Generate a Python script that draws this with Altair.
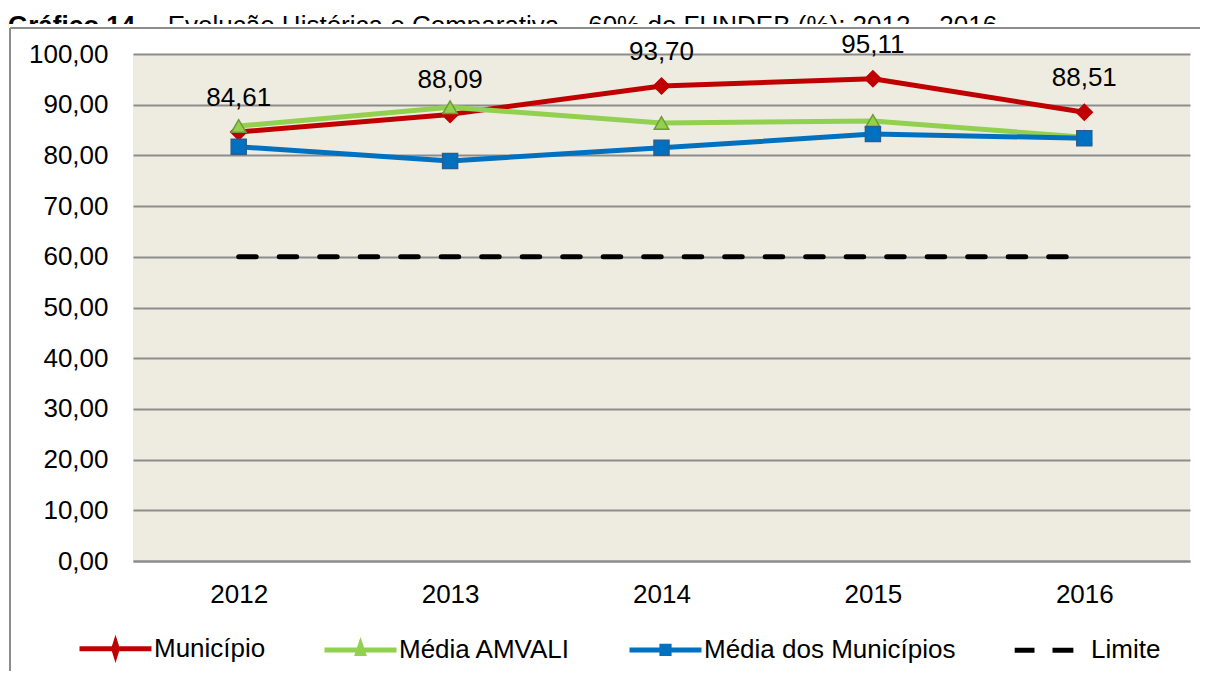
import altair as alt
import pandas as pd

# ---------------- data ----------------
years = ["2012", "2013", "2014", "2015", "2016"]
municipio = [84.61, 88.09, 93.70, 95.11, 88.51]
media_amvali = [85.8, 89.5, 86.4, 86.8, 83.6]
media_municipios = [81.7, 78.9, 81.5, 84.2, 83.4]
limite = [60, 60, 60, 60, 60]
y_ticks = [0, 10, 20, 30, 40, 50, 60, 70, 80, 90, 100]
series_names = ["Município", "Média AMVALI", "Média dos Municípios", "Limite"]
title_bold = "Gráfico 14"
title_rest = "– Evolução Histórica e Comparativa – 60% do FUNDEB (%): 2012 – 2016"

series_values = [municipio, media_amvali, media_municipios, limite]
rows = []
for name, vals in zip(series_names, series_values):
    for yr, v in zip(years, vals):
        rows.append({"serie": name, "ano": yr, "valor": v})
df = pd.DataFrame(rows)

# ---------------- style ----------------
W, H = 1057, 507
FONT = "Liberation Sans"
GRID = "#8C8C8C"
colors = ["#C00000", "#92D050", "#0070C0", "#000000"]
marker_shape = ["diamond", "triangle-up", "square"]
marker_size = [256, 210, 225]
marker_stroke = ["#C00000", "#6F9A37", "#2C5D8F"]

legend_paths = [
    "M-1,0H1M0,-0.16L0.05,0L0,0.16L-0.05,0Z",
    "M-1,0H1M0,-0.14L0.08,0.1L-0.08,0.1Z",
    "M-1,0H1M-0.1,-0.1H0.1V0.1H-0.1Z",
    "M-1.05,0H-0.5M0.0,0H0.58",
]

x_enc = alt.X(
    "ano:O",
    scale=alt.Scale(type="point", padding=0.5, domain=years),
    axis=alt.Axis(title=None, labelAngle=0, ticks=False, domain=True,
                  domainColor=GRID, domainWidth=2, grid=False,
                  labelPadding=20, labelFontSize=26, labelFont=FONT,
                  labelColor="#000000"),
)
y_enc = alt.Y(
    "valor:Q",
    scale=alt.Scale(domain=[0, 100], nice=False, zero=True),
    axis=alt.Axis(title=None, values=y_ticks, ticks=False, domain=False,
                  grid=True, gridColor=GRID, gridWidth=2,
                  labelPadding=25, labelFontSize=26, labelFont=FONT,
                  labelColor="#000000",
                  labelExpr="replace(format(datum.value, '.2f'), '.', ',')"),
)

one_row = alt.InlineData(values=[{"k": 1}])

# title pieces (partially hidden by the chart frame, as in the reference)
t1 = alt.Chart(one_row).mark_text(
    align="left", baseline="alphabetic", fontSize=26, font=FONT,
    fontWeight="bold", color="#000000"
).encode(x=alt.value(-125), y=alt.value(-20), text=alt.value(title_bold))
t2 = alt.Chart(one_row).mark_text(
    align="left", baseline="alphabetic", fontSize=26, font=FONT,
    color="#000000"
).encode(x=alt.value(13), y=alt.value(-20), text=alt.value(title_rest))

cover = alt.Chart(one_row).mark_rect(fill="white", stroke=None).encode(
    x=alt.value(-124), x2=alt.value(W + 20), y=alt.value(-30), y2=alt.value(-10)
)
frame_top = alt.Chart(one_row).mark_rule(color=GRID, strokeWidth=2).encode(
    x=alt.value(-123), x2=alt.value(W + 20), y=alt.value(-26)
)
frame_left = alt.Chart(one_row).mark_rule(color=GRID, strokeWidth=2).encode(
    x=alt.value(-123), y=alt.value(-26), y2=alt.value(H + 130)
)

layers = [t1, t2, cover, frame_top, frame_left]

base = alt.Chart(df)
for i, name in enumerate(series_names[:3]):
    sub = base.transform_filter(alt.datum.serie == name)
    line = sub.mark_line(color=colors[i], strokeWidth=5, strokeJoin="round").encode(
        x=x_enc, y=y_enc)
    pts = sub.mark_point(
        shape=marker_shape[i], size=marker_size[i], filled=True,
        fill=colors[i], stroke=marker_stroke[i], strokeWidth=1.5, opacity=1
    ).encode(x=x_enc, y=y_enc)
    layers += [line, pts]

lim = base.transform_filter(alt.datum.serie == "Limite").mark_line(
    color="#000000", strokeWidth=5, strokeDash=[17.5, 23], strokeCap="round"
).encode(x=x_enc, y=y_enc)
layers.append(lim)

labels = base.transform_filter(alt.datum.serie == "Município").transform_calculate(
    lbl="replace(format(datum.valor, '.2f'), '.', ',')"
).mark_text(fontSize=26, font=FONT, color="#000000", dy=-34, baseline="middle").encode(
    x=x_enc, y=y_enc, text="lbl:N")
layers.append(labels)

leg_opts = dict(title=None)
legend_layer = base.transform_filter("false").mark_point(
    filled=True, size=5184, opacity=1
).encode(
    x=x_enc, y=y_enc,
    fill=alt.Fill("serie:N", scale=alt.Scale(domain=series_names, range=colors),
                  legend=alt.Legend(**leg_opts)),
    stroke=alt.Stroke("serie:N", scale=alt.Scale(domain=series_names, range=colors),
                      legend=alt.Legend(**leg_opts)),
    shape=alt.Shape("serie:N", scale=alt.Scale(domain=series_names, range=legend_paths),
                    legend=alt.Legend(**leg_opts)),
)
layers.append(legend_layer)

chart = alt.layer(*layers).properties(
    width=W, height=H,
    autosize=alt.AutoSizeParams(type="none"),
    padding={"left": 125, "top": 46, "right": 10, "bottom": 110},
    background="white",
).configure_view(
    fill="#EEECE1", stroke=None
).configure_legend(
    orient="none", legendX=-56, legendY=556, direction="horizontal",
    labelFontSize=26, labelFont=FONT, labelColor="#000000",
    symbolSize=5184, symbolStrokeWidth=5, symbolOpacity=1,
    columnPadding=48, labelOffset=0, padding=0, labelLimit=500,
)

chart.save("out.html", embed_options={"renderer": "svg", "actions": False})
